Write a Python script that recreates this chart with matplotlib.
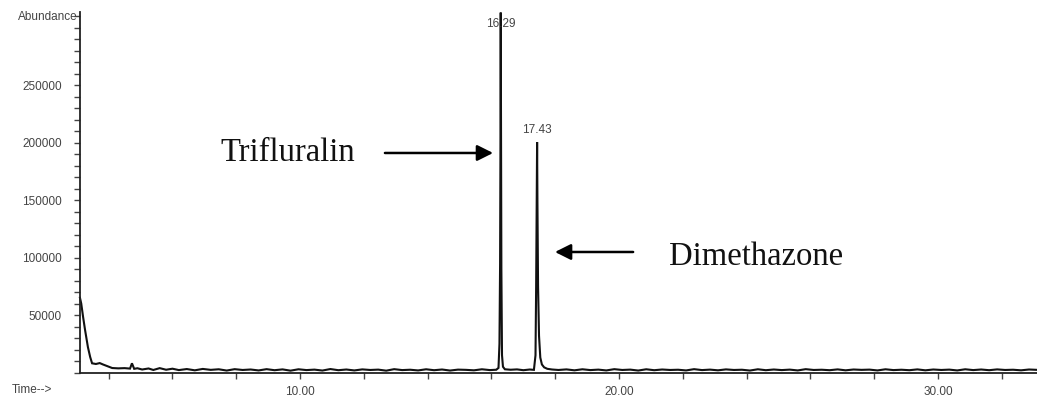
#!/usr/bin/env python3
"""GC-MS total ion chromatogram: Trifluralin (16.29 min) and Dimethazone (17.43 min)."""

import matplotlib
matplotlib.use("Agg")
import matplotlib.pyplot as plt
from matplotlib.ticker import MultipleLocator, FixedLocator

# --- trace: retention time [min], abundance ---
time_min = [
    3.10, 3.14, 3.20, 3.26, 3.35, 3.42, 3.48, 3.60, 3.72, 3.82, 3.95, 4.11,
    4.30, 4.50, 4.67, 4.73, 4.80, 4.90, 5.05, 5.25, 5.40, 5.60, 5.80, 6.00,
    6.20, 6.45, 6.70, 6.95, 7.20, 7.45, 7.70, 7.95, 8.20, 8.45, 8.70, 8.95,
    9.20, 9.45, 9.70, 9.95, 10.20, 10.45, 10.70, 10.95, 11.20, 11.45, 11.70,
    11.95, 12.20, 12.45, 12.70, 12.95, 13.20, 13.45, 13.70, 13.95, 14.20,
    14.45, 14.70, 14.95, 15.20, 15.45, 15.70, 15.95, 16.15,
    # Trifluralin
    16.22, 16.25, 16.27, 16.28, 16.29, 16.30, 16.31, 16.33, 16.36, 16.42,
    16.60, 16.80, 17.00, 17.20, 17.33,
    # Dimethazone
    17.38, 17.40, 17.42, 17.43, 17.44, 17.46, 17.49, 17.53, 17.58, 17.65,
    17.75, 17.90,
    18.10, 18.35, 18.60, 18.85, 19.10, 19.35, 19.60, 19.85, 20.10, 20.35,
    20.60, 20.85, 21.10, 21.35, 21.60, 21.85, 22.10, 22.35, 22.60, 22.85,
    23.10, 23.35, 23.60, 23.85, 24.10, 24.35, 24.60, 24.85, 25.10, 25.35,
    25.60, 25.85, 26.10, 26.35, 26.60, 26.85, 27.10, 27.35, 27.60, 27.85,
    28.10, 28.35, 28.60, 28.85, 29.10, 29.35, 29.60, 29.85, 30.10, 30.35,
    30.60, 30.85, 31.10, 31.35, 31.60, 31.85, 32.10, 32.35, 32.60, 32.85,
    33.10,
]
abundance = [
    65000, 60000, 48000, 37000, 22000, 13500, 8000, 7400, 8200, 7000, 5600,
    3900, 3600, 3800, 3400, 8000, 3200, 3700, 2600, 3500, 2200, 3800, 2400,
    3300, 2100, 3000, 1900, 3100, 2300, 2800, 1700, 2900, 2200, 2600, 1800,
    2900, 2000, 2700, 1600, 2800, 2100, 2500, 1700, 3000, 2000, 2600, 1800,
    2700, 2200, 2500, 1600, 2900, 2100, 2400, 1800, 2800, 2000, 2600, 1700,
    2500, 2300, 1900, 2800, 2100, 2400,
    4000, 25000, 95000, 185000, 313000, 180000, 90000, 15000, 5000, 2800,
    2400, 2700, 2000, 2600, 2300,
    15000, 75000, 150000, 200400, 150000, 75000, 32000, 13000, 7000, 4500,
    3200, 2600,
    2200, 2700, 1900, 2800, 2100, 2500, 1800, 2900, 2200, 2500, 1700, 2800,
    2000, 2600, 2200, 2400, 1800, 2900, 2100, 2500, 1900, 2700, 2200, 2400,
    1700, 2800, 2000, 2600, 2100, 2500, 1800, 2900, 2200, 2400, 2000, 2700,
    1900, 2600, 2300, 2500, 1800, 2800, 2100, 2400, 2000, 2700, 1900, 2600,
    2200, 2500, 1800, 2800, 2100, 2600, 2000, 2700, 2200, 2400, 1900, 2600,
    2300,
]

# peak apex labels
peak_rt = [16.29, 17.43]
peak_top = [313000, 200400]
peak_labels = ["16.29", "17.43"]
label_dy = [-8, 9]   # label offset from apex [pt]

# compound annotations: (name, text pos, arrow tail, arrow head)
compounds = ["Trifluralin", "Dimethazone"]
text_pos = [(9.61, 190900), (24.29, 100400)]
arrow_tail = [(12.66, 190900), (20.44, 104800)]
arrow_head = [(16.05, 190900), (17.99, 104800)]

X_LIM = (3.10, 33.10)
Y_LIM = (0, 313500)
TICK_COLOR = "#444444"

plt.rcParams["font.family"] = ["Liberation Sans", "DejaVu Sans"]

fig = plt.figure(figsize=(10.37, 4.0), dpi=100)
ax = fig.add_axes([0.0771, 0.06875, 0.9229, 0.90125])

ax.plot(time_min, abundance, color="#111111", lw=1.5, clip_on=False,
        solid_joinstyle="miter")

ax.set_xlim(*X_LIM)
ax.set_ylim(*Y_LIM)

# axes look: only left and bottom spines, ticks pointing outward
for side in ("top", "right"):
    ax.spines[side].set_visible(False)
for side in ("left", "bottom"):
    ax.spines[side].set_linewidth(1.3)
    ax.spines[side].set_color("#222222")

ax.xaxis.set_major_locator(FixedLocator([10, 20, 30]))
ax.xaxis.set_minor_locator(MultipleLocator(2))
ax.xaxis.set_major_formatter(plt.FuncFormatter(lambda v, p: f"{v:.2f}"))
ax.yaxis.set_major_locator(FixedLocator([50000, 100000, 150000, 200000, 250000]))
ax.yaxis.set_minor_locator(MultipleLocator(10000))
ax.yaxis.set_major_formatter(plt.FuncFormatter(lambda v, p: f"{int(v)}"))

ax.tick_params(axis="both", which="both", direction="out", length=4,
               width=1.0, color=TICK_COLOR, labelsize=8.5,
               labelcolor=TICK_COLOR)
ax.tick_params(axis="y", which="major", pad=9)
ax.tick_params(axis="x", which="major", pad=6)

# axis captions in the style of the instrument printout
fig.text(78 / 1037, 1 - 17 / 400, "Abundance", ha="right", va="center",
         fontsize=8.5, color=TICK_COLOR)
fig.text(12 / 1037, 1 - 390 / 400, "Time-->", ha="left", va="center",
         fontsize=8.5, color=TICK_COLOR)

for rt, top, lab, dy in zip(peak_rt, peak_top, peak_labels, label_dy):
    ax.annotate(lab, (rt, top), xytext=(0, dy), textcoords="offset points",
                ha="center", va="center", fontsize=8.5, color=TICK_COLOR,
                annotation_clip=False)

for name, tpos, tail, head in zip(compounds, text_pos, arrow_tail, arrow_head):
    ax.text(tpos[0], tpos[1], name, ha="center", va="center",
            fontsize=23.5, family="Liberation Serif", color="#111111")
    ax.annotate("", xy=head, xytext=tail,
                arrowprops=dict(arrowstyle="-|>", lw=1.8, color="black",
                                mutation_scale=24, shrinkA=0, shrinkB=0))

fig.savefig("out.png", dpi=100)
